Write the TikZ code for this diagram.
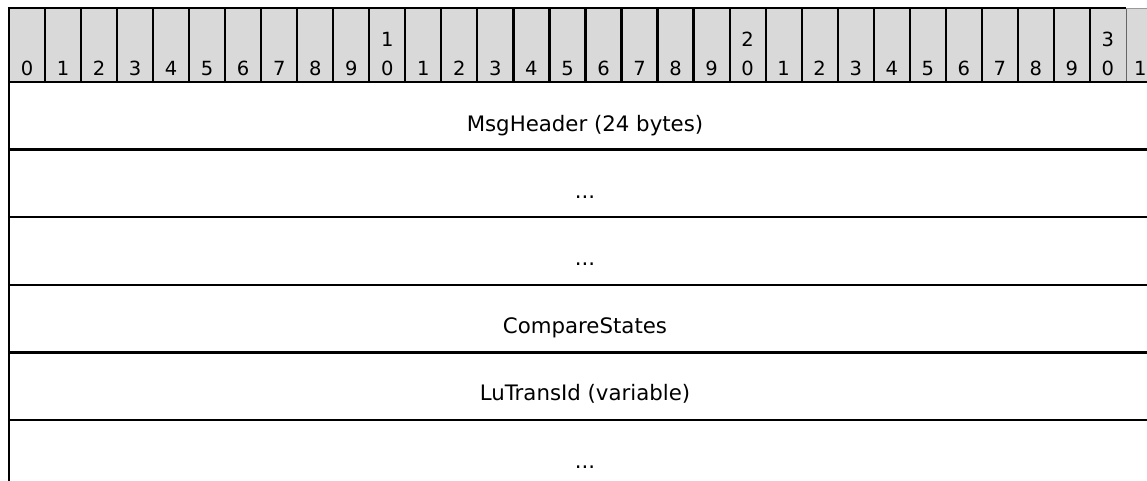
\documentclass[tikz,border=0pt]{standalone}
\usepackage{fontspec}
\setmainfont{DejaVu Sans}
\definecolor{hdrgray}{RGB}{217,217,217}
\tikzset{
  grid/.style={line width=2.2pt, black},
  bit/.style={inner sep=0pt, anchor=base, font=\fontsize{19.5}{23}\selectfont},
  field/.style={inner sep=0pt, anchor=base, font=\fontsize{21.3}{26}\selectfont},
}
\begin{document}
\begin{tikzpicture}[x=1pt,y=-1pt]
\useasboundingbox (0,0) rectangle (1147,481);
\fill[hdrgray] (9,8) rectangle (1147,82);
% header vertical lines
\foreach \i in {0,...,30}{
  \draw[grid] ({9+36.03*\i},8) -- ({9+36.03*\i},82);
}
\draw[line width=0.8pt, black!60] (1126,8) -- (1126,82);
\draw[grid] (7.9,8) -- (1126,8);
\draw[line width=0.8pt, black!40] (1126,8) -- (1147,8);
% header digits
\foreach \i in {0,...,30}{
  \pgfmathtruncatemacro{\u}{mod(\i,10)}
  \node[bit] (u\i) at ({9+36.03*(\i+0.5)},76) {\u};
}
\foreach \i in {10,20,30}{
  \pgfmathtruncatemacro{\t}{int(\i/10)}
  \node[bit] (t\i) at ({9+36.03*(\i+0.5)},47) {\t};
}
\node[bit, anchor=base west] (u31) at (1134,76) {1};
% row lines
\foreach \y in {82,149.6,217.2,284.8,352.4,420}{
  \draw[grid] (7.9,\y) -- (1147,\y);
}
\draw[grid] (9,6.9) -- (9,481);
% fields
\node[field] (f1) at (585,131.5) {MsgHeader (24 bytes)};
\node[field] (f2) at (585,198) {...};
\node[field] (f3) at (585,265.5) {...};
\node[field] (f4) at (585,333) {CompareStates};
\node[field] (f5) at (585,400.5) {LuTransId (variable)};
\node[field] (f6) at (585,468) {...};
\end{tikzpicture}
\end{document}
